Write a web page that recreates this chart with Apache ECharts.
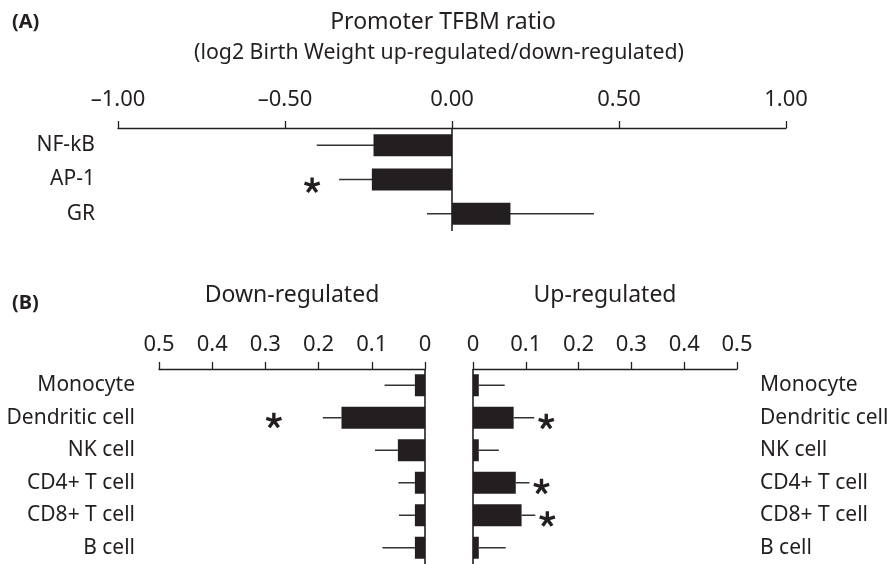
<!DOCTYPE html>
<html>
<head>
<meta charset="utf-8">
<script src="https://cdn.jsdelivr.net/npm/echarts@6/dist/echarts.min.js"></script>
<style>
html,body{margin:0;padding:0;background:#fff;}
#chart{width:892px;height:564px;}
</style>
</head>
<body>
<div id="chart"></div>
<script>
// ---------- Data ----------
// Panel A: promoter TFBM ratio (log2 up/down)
const catsA = ['NF-kB', 'AP-1', 'GR'];
const valsA = [-0.235, -0.24, 0.175];
const errA = [0.17, 0.098, 0.25];
const sigA = [0, 1, 0];
const ticksA = [-1, -0.5, 0, 0.5, 1];

// Panel B: cell type enrichment
const catsB = ['Monocyte', 'Dendritic cell', 'NK cell', 'CD4+ T cell', 'CD8+ T cell', 'B cell'];
const downVals = [0.019, 0.157, 0.051, 0.019, 0.019, 0.019];
const downErr = [0.057, 0.035, 0.043, 0.031, 0.030, 0.061];
const sigDown = [0, 1, 0, 0, 0, 0];
const upVals = [0.011, 0.077, 0.011, 0.081, 0.092, 0.011];
const upErr = [0.049, 0.039, 0.038, 0.026, 0.026, 0.051];
const sigUp = [0, 1, 0, 1, 1, 0];

// ---------- Styling ----------
const INK = '#231f20';
const FONT = '"Noto Sans", "Open Sans", sans-serif';

const chart = echarts.init(document.getElementById('chart'), null, {renderer: 'canvas'});

function errLineRender(params, api) {
  const a = api.coord([api.value(0), api.value(2)]);
  const b = api.coord([api.value(1), api.value(2)]);
  return {
    type: 'line',
    shape: {x1: a[0], y1: a[1], x2: b[0], y2: b[1]},
    style: {stroke: '#333', lineWidth: 1.5}
  };
}

function starShape(cx, cy) {
  const r = 8;
  const children = [];
  for (let k = 0; k < 5; k++) {
    const ang = (-90 + k * 72) * Math.PI / 180;
    children.push({
      type: 'line',
      shape: {x1: cx, y1: cy, x2: cx + r * Math.cos(ang), y2: cy + r * Math.sin(ang)},
      style: {stroke: INK, lineWidth: 3.4, lineCap: 'butt'}
    });
  }
  return {type: 'group', children};
}

function starRender(dx, dy) {
  return function (params, api) {
    const p = api.coord([api.value(0), api.value(1)]);
    return starShape(p[0] + dx, p[1] + dy);
  };
}

const errDataA = catsA.map((c, i) => [valsA[i] - errA[i], valsA[i] + errA[i], i]);
const starDataA = catsA.map((c, i) => [valsA[i] + (valsA[i] < 0 ? -errA[i] : errA[i]), i]).filter((d, i) => sigA[i]);
const errDataDown = catsB.map((c, i) => [downVals[i], downVals[i] + downErr[i], i]);
const errDataUp = catsB.map((c, i) => [upVals[i], upVals[i] + upErr[i], i]);
const starDataDown = catsB.map((c, i) => [downVals[i] + downErr[i], i]).filter((d, i) => sigDown[i]);
const starDataUp = catsB.map((c, i) => [upVals[i] + upErr[i], i]).filter((d, i) => sigUp[i]);

const axisLineStyle = {show: true, onZero: false, lineStyle: {color: INK, width: 1.3}};
const axisTickStyle = {show: true, length: 7, lineStyle: {color: INK, width: 1.3}};
const tickLabelStyle = {color: INK, fontSize: 22, fontFamily: FONT};
const catLabelStyle = {color: INK, fontSize: 21, fontFamily: FONT};

const zeroLine = {
  silent: true,
  symbol: ['none', 'none'],
  label: {show: false},
  lineStyle: {color: INK, width: 1.6, type: 'solid'},
  emphasis: {disabled: true},
  data: [{xAxis: 0}]
};

const option = {
  backgroundColor: '#fff',
  animation: false,
  textStyle: {fontFamily: FONT},
  graphic: [
    {type: 'text', x: 12, y: 22, style: {text: '(A)', font: 'bold 20px ' + FONT, fill: INK, textVerticalAlign: 'middle'}},
    {type: 'text', x: 12, y: 303, style: {text: '(B)', font: 'bold 20px ' + FONT, fill: INK, textVerticalAlign: 'middle'}},
    {type: 'text', x: 443, y: 22, style: {text: 'Promoter TFBM ratio', font: '23px ' + FONT, fill: INK, textAlign: 'center', textVerticalAlign: 'middle'}},
    {type: 'text', x: 439, y: 53, style: {text: '(log2 Birth Weight up-regulated/down-regulated)', font: '21.3px ' + FONT, fill: INK, textAlign: 'center', textVerticalAlign: 'middle'}}
  ],
  grid: [
    {left: 118, top: 128, width: 668, height: 103},
    {left: 159, top: 369, width: 266, height: 197},
    {left: 473, top: 369, width: 264, height: 197}
  ],
  xAxis: [
    {
      type: 'value', gridIndex: 0, position: 'top', min: -1, max: 1, interval: 0.5,
      axisLine: axisLineStyle, axisTick: axisTickStyle, splitLine: {show: false},
      axisLabel: Object.assign({margin: 17, formatter: v => (v < 0 ? '\u2013' : '') + Math.abs(v).toFixed(2)}, tickLabelStyle)
    },
    {
      type: 'value', gridIndex: 1, position: 'top', min: 0, max: 0.5, interval: 0.1, inverse: true,
      name: 'Down-regulated', nameLocation: 'middle', nameGap: 62,
      nameTextStyle: {color: INK, fontSize: 23, fontFamily: FONT},
      axisLine: axisLineStyle, axisTick: axisTickStyle, splitLine: {show: false},
      axisLabel: Object.assign({margin: 13, formatter: v => v === 0 ? '0' : v.toFixed(1)}, tickLabelStyle)
    },
    {
      type: 'value', gridIndex: 2, position: 'top', min: 0, max: 0.5, interval: 0.1,
      name: 'Up-regulated', nameLocation: 'middle', nameGap: 62,
      nameTextStyle: {color: INK, fontSize: 23, fontFamily: FONT},
      axisLine: axisLineStyle, axisTick: axisTickStyle, splitLine: {show: false},
      axisLabel: Object.assign({margin: 13, formatter: v => v === 0 ? '0' : v.toFixed(1)}, tickLabelStyle)
    }
  ],
  yAxis: [
    {
      type: 'category', gridIndex: 0, data: catsA, inverse: true,
      axisLine: {show: false}, axisTick: {show: false}, splitLine: {show: false},
      axisLabel: Object.assign({margin: 23}, catLabelStyle)
    },
    {
      type: 'category', gridIndex: 1, data: catsB, inverse: true,
      axisLine: {show: false}, axisTick: {show: false}, splitLine: {show: false},
      axisLabel: Object.assign({margin: 24}, catLabelStyle)
    },
    {
      type: 'category', gridIndex: 2, data: catsB, inverse: true, position: 'right',
      axisLine: {show: false}, axisTick: {show: false}, splitLine: {show: false},
      axisLabel: Object.assign({margin: 23}, catLabelStyle)
    }
  ],
  series: [
    {
      type: 'custom', xAxisIndex: 0, yAxisIndex: 0, data: errDataA, z: 1,
      encode: {x: [0, 1], y: 2}, renderItem: errLineRender, silent: true
    },
    {
      type: 'bar', xAxisIndex: 0, yAxisIndex: 0, data: valsA, barWidth: 22, z: 3,
      itemStyle: {color: INK}, silent: true, markLine: zeroLine
    },
    {
      type: 'custom', xAxisIndex: 0, yAxisIndex: 0, data: starDataA, z: 4,
      encode: {x: 0, y: 1}, renderItem: starRender(-27, 6), silent: true
    },
    {
      type: 'custom', xAxisIndex: 1, yAxisIndex: 1, data: errDataDown, z: 1,
      encode: {x: [0, 1], y: 2}, renderItem: errLineRender, silent: true
    },
    {
      type: 'bar', xAxisIndex: 1, yAxisIndex: 1, data: downVals, barWidth: 22, z: 3,
      itemStyle: {color: INK}, silent: true, markLine: zeroLine
    },
    {
      type: 'custom', xAxisIndex: 1, yAxisIndex: 1, data: starDataDown, z: 4,
      encode: {x: 0, y: 1}, renderItem: starRender(-49, 3), silent: true
    },
    {
      type: 'custom', xAxisIndex: 2, yAxisIndex: 2, data: errDataUp, z: 1,
      encode: {x: [0, 1], y: 2}, renderItem: errLineRender, silent: true
    },
    {
      type: 'bar', xAxisIndex: 2, yAxisIndex: 2, data: upVals, barWidth: 22, z: 3,
      itemStyle: {color: INK}, silent: true, markLine: zeroLine
    },
    {
      type: 'custom', xAxisIndex: 2, yAxisIndex: 2, data: starDataUp, z: 4,
      encode: {x: 0, y: 1}, renderItem: starRender(12, 4), silent: true
    }
  ]
};

chart.setOption(option);
</script>
</body>
</html>
